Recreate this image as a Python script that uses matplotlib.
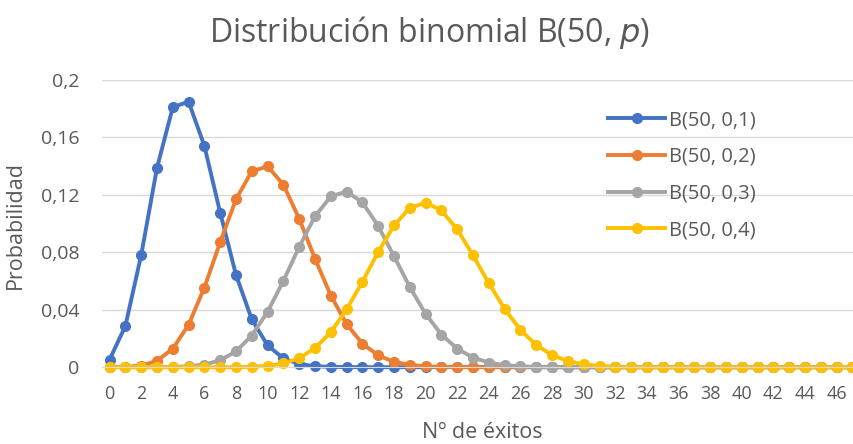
import matplotlib.pyplot as plt
import numpy as np

# Valores (k = 0..50)
k = list(range(51))
p01 = [0.0052, 0.0286, 0.0779, 0.1386, 0.1809, 0.1849, 0.1541, 0.1076, 0.0643, 0.0333,
       0.0152, 0.0061, 0.0022, 0.0007, 0.0002, 0.0001] + [0.0] * 35
p02 = [0.0, 0.0002, 0.0011, 0.0044, 0.0128, 0.0295, 0.0554, 0.0870, 0.1169, 0.1364,
       0.1398, 0.1271, 0.1033, 0.0755, 0.0499, 0.0299, 0.0164, 0.0082, 0.0037, 0.0016,
       0.0006, 0.0002, 0.0001] + [0.0] * 28
p03 = [0.0, 0.0, 0.0, 0.0, 0.0002, 0.0006, 0.0018, 0.0048, 0.0110, 0.0220,
       0.0386, 0.0601, 0.0838, 0.1050, 0.1189, 0.1223, 0.1147, 0.0983, 0.0772, 0.0558,
       0.0370, 0.0227, 0.0128, 0.0067, 0.0032, 0.0014, 0.0006, 0.0002, 0.0001] + [0.0] * 22
p04 = [0.0] * 9 + [0.0003, 0.0009, 0.0026, 0.0063, 0.0133, 0.0244, 0.0402, 0.0595, 0.0803,
       0.0987, 0.1109, 0.1146, 0.1091, 0.0959, 0.0778, 0.0584, 0.0405, 0.0259, 0.0154,
       0.0084, 0.0043, 0.0020, 0.0009, 0.0003, 0.0001] + [0.0] * 17

series = [p01, p02, p03, p04]
labels = ['B(50, 0,1)', 'B(50, 0,2)', 'B(50, 0,3)', 'B(50, 0,4)']
colors = ['#4472C4', '#ED7D31', '#A5A5A5', '#FFC000']

yticks = [0, 0.04, 0.08, 0.12, 0.16, 0.2]
ytick_labels = ['0', '0,04', '0,08', '0,12', '0,16', '0,2']
xticks = list(range(0, 47, 2))

plt.rcParams['font.family'] = ['Open Sans', 'DejaVu Sans']
text_color = '#595959'

fig = plt.figure(figsize=(8.54, 4.44), dpi=100)
ax = fig.add_axes([0.119, 0.173, 0.881, 0.647])

for ys, lab, c in zip(series, labels, colors):
    ax.plot(k, ys, color=c, lw=2.8, marker='o', ms=7, label=lab, clip_on=False)

ax.set_yticks(yticks)
ax.set_yticklabels(ytick_labels)
ax.set_xticks(xticks)
ax.set_xlim(-0.5, 47.1)
ax.set_ylim(0, 0.2)
ax.tick_params(length=0, colors=text_color)
ax.tick_params(axis='x', labelsize=13, pad=13)
ax.tick_params(axis='y', labelsize=14, pad=16)
ax.grid(axis='y', color='#D9D9D9', lw=1)
ax.set_axisbelow(True)
for s in ['top', 'right', 'left']:
    ax.spines[s].set_visible(False)
ax.spines['bottom'].set_color('#D9D9D9')

fig.text(0.503, 0.926, 'Distribución binomial B(50, $\\it{p}$)', ha='center', va='center',
         fontsize=23, color=text_color)
fig.text(0.018, 0.493, 'Probabilidad', rotation=90, ha='center', va='center',
         fontsize=15.5, color=text_color)
fig.text(0.565, 0.027, 'Nº de éxitos', ha='center', va='center', fontsize=15.5, color=text_color)

ax.legend(loc='upper left', bbox_to_anchor=(0.703, 0.770), bbox_transform=fig.transFigure,
          borderaxespad=0, frameon=False, fontsize=14.5, handlelength=2.8,
          handletextpad=0.2, labelspacing=0.83, labelcolor=text_color)

fig.savefig('out.png', dpi=100)
